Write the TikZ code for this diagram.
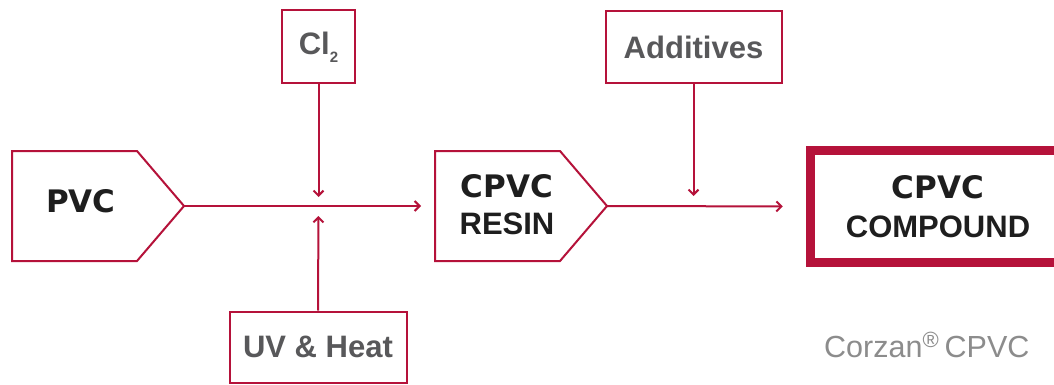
\documentclass[tikz,border=0pt]{standalone}
\usepackage{fontspec}
\setmainfont{Liberation Sans}
\newfontfamily\heavyfont{DejaVu Sans}
\usetikzlibrary{arrows.meta}
\definecolor{crim}{RGB}{181,18,58}
\definecolor{txtgray}{RGB}{88,88,90}
\definecolor{lgray}{RGB}{140,140,140}
\definecolor{nearblack}{RGB}{30,30,30}
\begin{document}
\begin{tikzpicture}[x=1pt,y=-1pt,
  inbox/.style={draw=crim,line width=2pt,fill=white,inner sep=0pt,text=txtgray,font=\fontsize{31}{31}\selectfont\bfseries},
  flow/.style={draw=crim,line width=2pt,-{Straight Barb[length=5pt,width=10pt,line width=2pt]}},
  penta/.style={draw=crim,line width=2pt,line join=miter},
  big/.style={font=\fontsize{31}{31}\selectfont\bfseries,text=nearblack,inner sep=0pt},
  heavy/.style={font=\fontsize{31}{31}\heavyfont\bfseries,text=nearblack,inner sep=0pt}
]
\clip (0,0) rectangle (1054,385);
\fill[white] (0,0) rectangle (1054,385);

% PVC
\draw[penta] (12,151) -- (137,151) -- (184,206) -- (137,261) -- (12,261) -- cycle;
\coordinate (pvctip) at (184,206);
\node[heavy,anchor=base] (pvc) at (81,212) {PVC};

% CPVC resin
\draw[penta] (435,151) -- (560,151) -- (607,206) -- (560,261) -- (435,261) -- cycle;
\coordinate (resinin) at (435,206);
\coordinate (resintip) at (607,206);
\node[heavy,anchor=base] (r1) at (507,197) {CPVC};
\node[big,anchor=base] (r2) at (507,234) {RESIN};

% CPVC compound
\node[draw=crim,line width=9pt,minimum width=255.5pt,minimum height=112pt,inner sep=0pt] (comp) at (938,206.5) {};
\node[heavy,anchor=base] (c1) at (938,198) {CPVC};
\node[big,anchor=base] (c2) at (938,237) {COMPOUND};

% inputs
\node[inbox,minimum width=73pt,minimum height=73pt] (cl) at (318.5,47) {Cl\raisebox{-8pt}{\fontsize{15}{15}\selectfont 2}};
\node[inbox,minimum width=176pt,minimum height=72pt] (add) at (693.5,47.5) {Additives};
\node[inbox,minimum width=177pt,minimum height=71pt] (uv) at (318,347) {UV \& Heat};

\coordinate (join) at (318.5,206);
\coordinate (join2) at (693.5,206);

% connectors
\draw[flow,shorten >=14pt] (pvctip) -- (resinin);
\draw[flow,shorten >=9pt] (cl.south) -- (join);
\draw[flow,shorten >=10pt] (uv.north) -- (join);
\draw[flow,shorten >=23pt] (resintip) -- (comp.west);
\draw[flow,shorten >=10pt] (add.south) -- (join2);

% caption
\node[anchor=base west,inner sep=0pt,text=lgray,font=\fontsize{30.5}{30.5}\selectfont] (corzan) at (824,357) {Corzan\textsuperscript{\fontsize{22}{22}\selectfont ®}\hspace{-3pt} CPVC};
\end{tikzpicture}
\end{document}
